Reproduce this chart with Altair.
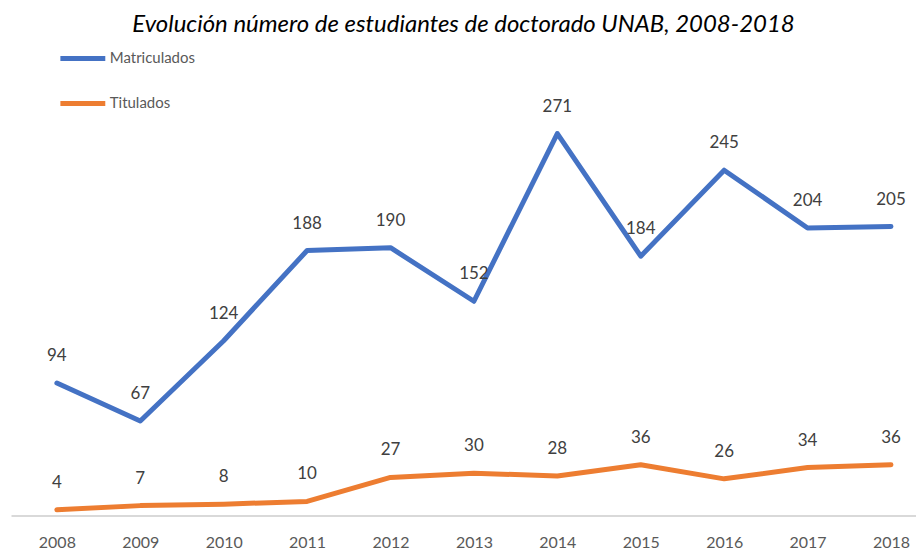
import altair as alt
import pandas as pd

years = [2008, 2009, 2010, 2011, 2012, 2013, 2014, 2015, 2016, 2017, 2018]
matriculados = [94, 67, 124, 188, 190, 152, 271, 184, 245, 204, 205]
titulados = [4, 7, 8, 10, 27, 30, 28, 36, 26, 34, 36]
series_names = ["Matriculados", "Titulados"]
series_colors = ["#4472C4", "#ED7D31"]

rows = []
for y, m in zip(years, matriculados):
    rows.append({"year": y, "value": m, "serie": "Matriculados"})
for y, t in zip(years, titulados):
    rows.append({"year": y, "value": t, "serie": "Titulados"})
df = pd.DataFrame(rows)

FONT = "Lato"

x = alt.X(
    "year:Q",
    scale=alt.Scale(domain=[2007.45, 2018.3], nice=False, zero=False),
    axis=alt.Axis(
        title=None, values=years, format="d", grid=False, ticks=False,
        domainColor="#d9d9d9", domainWidth=2, labelColor="#595959",
        labelFont=FONT, labelFontSize=16, labelPadding=19,
    ),
)
y = alt.Y("value:Q", scale=alt.Scale(domain=[0, 320], nice=False), axis=None)

lines = alt.Chart(df).mark_line(strokeWidth=5, strokeCap="round", strokeJoin="round").encode(
    x=x,
    y=y,
    color=alt.Color(
        "serie:N",
        scale=alt.Scale(domain=series_names, range=series_colors),
        legend=alt.Legend(
            title=None, orient="none", legendX=47, legendY=-31,
            symbolType="stroke", symbolSize=2025, symbolStrokeWidth=5,
            labelFont=FONT, labelFontSize=15, labelColor="#595959",
            labelOffset=2, rowPadding=10, symbolOffset=0,
        ),
    ),
)

labels = alt.Chart(df).mark_text(
    dy=-27, font=FONT, fontSize=17, color="#404040", baseline="middle"
).encode(x=x, y=y, text="value:Q")

chart = (lines + labels).properties(
    width=907,
    height=452,
    title=alt.TitleParams(
        "Evolución número de estudiantes de doctorado UNAB, 2008-2018",
        font=FONT, fontSize=24, fontStyle="italic", fontWeight="normal",
        color="#000000", anchor="middle", offset=1, dy=4,
    ),
    autosize=alt.AutoSizeParams(type="none"),
    padding={"left": 3, "top": 56, "right": 0, "bottom": 38},
).configure_view(stroke=None)

chart.save("out.html", embed_options={"renderer": "svg", "actions": False})
